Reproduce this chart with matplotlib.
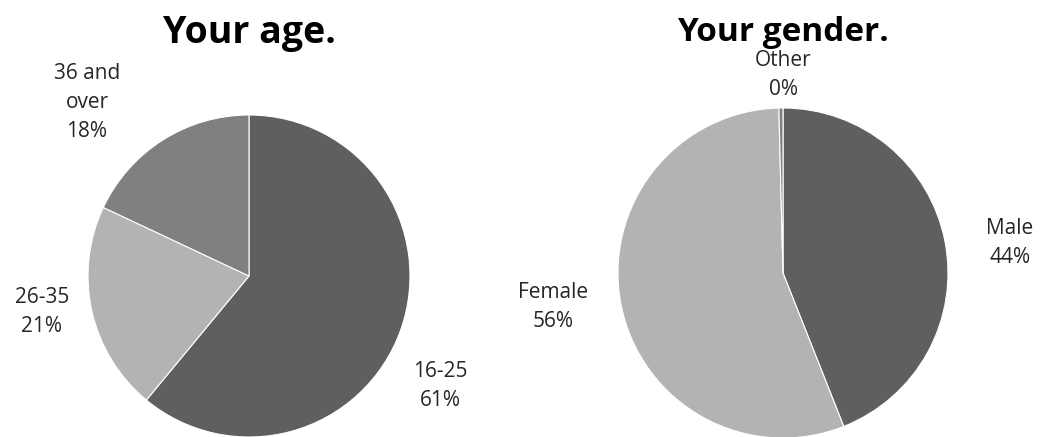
import matplotlib.pyplot as plt

# ----------------- DATA -----------------
age_labels = ["16-25", "26-35", "36 and\nover"]
age_values = [61, 21, 18]
age_pcts = ["61%", "21%", "18%"]

gender_labels = ["Male", "Female", "Other"]
gender_values = [44, 55.6, 0.4]
gender_pcts = ["44%", "56%", "0%"]

DARK = "#5f5f5f"
LIGHT = "#b3b3b3"
MID = "#808080"

plt.rcParams["font.family"] = ["Open Sans", "DejaVu Sans"]

W, H = 1042, 437
fig = plt.figure(figsize=(W / 100, H / 100), dpi=100)


def pie_axes(cx, cy, r):
    # cx, cy, r in image pixels (y from top)
    return fig.add_axes([(cx - r) / W, (H - cy - r) / H, 2 * r / W, 2 * r / H])


def draw_pie(ax, values, colors, labels, pcts, label_pos, title, title_y, title_size):
    ax.pie(values, colors=colors, startangle=90, counterclock=False, radius=1,
           wedgeprops=dict(edgecolor="white", linewidth=0.8))
    ax.set_xlim(-1, 1)
    ax.set_ylim(-1, 1)
    ax.set_aspect("equal")
    ax.axis("off")
    for lab, pct, (x, y) in zip(labels, pcts, label_pos):
        ax.text(x, y, f"{lab}\n{pct}", ha="center", va="center", fontsize=15,
                color="#262626", linespacing=1.5, clip_on=False)
    ax.text(0, title_y, title, ha="center", va="center", fontsize=title_size,
            fontweight="bold", color="black", clip_on=False)


ax1 = pie_axes(249, 276, 161)
draw_pie(ax1, age_values, [DARK, LIGHT, MID], age_labels, age_pcts,
         [(1.186, -0.683), (-1.286, -0.224), (-1.006, 1.075)],
         "Your age.", 1.51, 27)

ax2 = pie_axes(783, 273, 165)
draw_pie(ax2, gender_values, [DARK, LIGHT, MID], gender_labels, gender_pcts,
         [(1.376, 0.182), (-1.394, -0.206), (0.0, 1.2)],
         "Your gender.", 1.46, 24)

fig.savefig("out.png", dpi=100, facecolor="white")
